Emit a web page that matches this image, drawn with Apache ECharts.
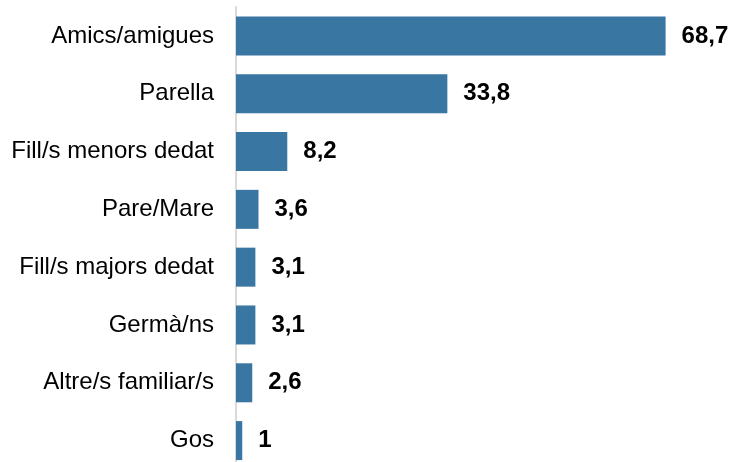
<!DOCTYPE html>
<html>
<head>
<meta charset="utf-8">
<script src="https://cdn.jsdelivr.net/npm/echarts@6/dist/echarts.min.js"></script>
<style>
  html, body { margin: 0; padding: 0; background: #ffffff; }
  #chart { width: 734px; height: 462px; }
</style>
</head>
<body>
<div id="chart"></div>
<script>
// Categories, listed top to bottom
const categories = [
  'Amics/amigues',
  'Parella',
  'Fill/s menors dedat',
  'Pare/Mare',
  'Fill/s majors dedat',
  'Germà/ns',
  'Altre/s familiar/s',
  'Gos'
];
// Percentages for each category
const values = [68.7, 33.8, 8.2, 3.6, 3.1, 3.1, 2.6, 1];

const chart = echarts.init(document.getElementById('chart'));

chart.setOption({
  animation: false,
  backgroundColor: '#ffffff',
  grid: {
    left: 236, top: 7, width: 469, height: 462.5,
    containLabel: false,
    outerBoundsMode: 'none'
  },
  xAxis: {
    type: 'value',
    min: 0,
    max: 75,
    show: false
  },
  yAxis: {
    type: 'category',
    data: categories,
    inverse: true,
    axisLine: { show: true, lineStyle: { color: '#d9d9d9', width: 2 } },
    axisTick: { show: false },
    axisLabel: {
      margin: 22,
      color: '#000000',
      fontFamily: 'Liberation Sans, Arial, sans-serif',
      fontSize: 24
    }
  },
  series: [{
    type: 'bar',
    data: values,
    barWidth: 39,
    itemStyle: { color: '#3a76a2' },
    label: {
      show: true,
      position: 'right',
      distance: 16,
      color: '#000000',
      fontFamily: 'Liberation Sans, Arial, sans-serif',
      fontWeight: 'bold',
      fontSize: 24,
      formatter: p => String(p.value).replace('.', ',')
    }
  }]
});
</script>
</body>
</html>
